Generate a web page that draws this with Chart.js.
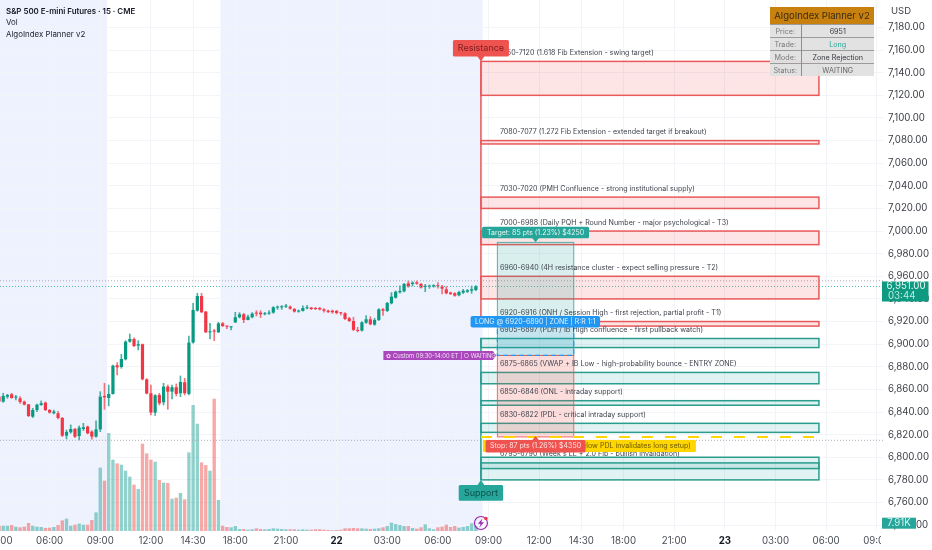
<!DOCTYPE html>
<html>
<head>
<meta charset="utf-8">
<title>ES 15m AlgoIndex Planner</title>
<script src="https://cdn.jsdelivr.net/npm/chart.js@4"></script>
<style>
  html, body { margin: 0; width: 932px; height: 550px; overflow: hidden; background: #fff; font-family: Inter, sans-serif; }
  #chart { position: absolute; left: -30px; top: 0; }
  .legend { position: absolute; left: 6px; top: 6px; font-size: 7.9px; line-height: 11.3px; color: #23262f; white-space: nowrap; }
  .legend b { font-weight: 600; color: #131722; }
  .planner { position: absolute; left: 770px; top: 7px; width: 104px; border-collapse: collapse; font-size: 7.2px; background: rgba(224,224,224,.95); table-layout: fixed; }
  .planner th { background: #c8810f; color: #3a2a10; font-weight: 400; font-size: 9.5px; height: 17px; padding: 0; }
  .planner td { height: 12px; padding: 0; text-align: center; border-top: 1px solid #9b9b9b; color: #33363d; white-space: nowrap; }
  .planner td:first-child { color: #777; border-right: 1px solid #8e8e8e; }
</style>
</head>
<body>
<canvas id="chart" width="962" height="550"></canvas>
<div class="legend"><b>S&amp;P 500 E-mini Futures · 15 · CME</b><br>Vol<br>AlgoIndex Planner v2</div>
<table class="planner">
  <colgroup><col style="width:31px"><col style="width:73px"></colgroup>
  <tr><th colspan="2">AlgoIndex Planner v2</th></tr>
  <tr><td>Price:</td><td>6951</td></tr>
  <tr><td>Trade:</td><td style="color:#26a69a">Long</td></tr>
  <tr><td>Mode:</td><td>Zone Rejection</td></tr>
  <tr><td>Status:</td><td style="color:#666">WAITING</td></tr>
</table>
<script>
/* ===== Data ===== */
const opens = [
  6853.6, 6849.2, 6853.6, 6855.7, 6852.7, 6852.1, 6849.2, 6846.8, 6835.9, 6841.8, 6846.2, 6848.3,
  6841.8, 6838.9, 6838.9, 6834.7, 6819.1, 6822.1, 6825.0, 6818.8, 6825.0, 6827.1, 6822.7, 6818.2,
  6824.7, 6854.2, 6852.4, 6856.0, 6881.3, 6879.8, 6886.6, 6902.2, 6904.6, 6898.7, 6899.9, 6868.9,
  6856.6, 6839.5, 6855.1, 6848.6, 6862.5, 6858.0, 6861.9, 6856.6, 6866.3, 6856.0, 6901.4, 6929.6,
  6942.6, 6928.8, 6910.5, 6912.0, 6910.5, 6918.4, 6916.1, 6914.9, 6919.3, 6923.8, 6926.4, 6921.4,
  6923.8, 6927.9, 6927.9, 6926.4, 6927.0, 6927.9, 6932.3, 6932.6, 6933.2, 6933.2, 6931.1, 6928.8,
  6929.4, 6931.7, 6932.3, 6932.0, 6932.0, 6930.8, 6929.6, 6929.6, 6929.4, 6927.9, 6927.3, 6922.9,
  6920.5, 6912.6, 6912.0, 6919.0, 6922.0, 6917.3, 6921.4, 6930.8, 6929.4, 6936.1, 6941.1, 6945.9,
  6946.7, 6953.8, 6953.2, 6954.7, 6953.2, 6950.6, 6950.9, 6951.2, 6951.8, 6950.9, 6948.5, 6945.6,
  6945.0, 6943.2, 6945.6, 6946.4, 6947.3, 6947.9
];
const closes = [
  6849.2, 6854.2, 6855.1, 6852.4, 6853.6, 6848.9, 6846.5, 6836.5, 6841.8, 6846.5, 6847.7, 6841.8,
  6839.5, 6840.4, 6834.7, 6819.1, 6822.4, 6825.0, 6818.2, 6826.2, 6826.5, 6821.2, 6818.2, 6824.7,
  6853.6, 6853.0, 6856.0, 6881.0, 6879.5, 6886.9, 6902.2, 6904.6, 6898.4, 6899.9, 6868.9, 6856.3,
  6839.5, 6854.8, 6847.7, 6862.5, 6858.0, 6861.9, 6856.0, 6866.6, 6856.6, 6901.4, 6930.2, 6942.6,
  6928.2, 6910.5, 6911.4, 6911.1, 6918.4, 6916.1, 6915.5, 6915.5, 6923.8, 6926.4, 6921.4, 6924.3,
  6927.0, 6927.0, 6926.4, 6927.3, 6927.9, 6932.6, 6932.9, 6933.5, 6933.8, 6931.4, 6928.8, 6929.6,
  6932.0, 6932.6, 6931.1, 6931.1, 6930.8, 6929.6, 6928.5, 6928.2, 6927.6, 6927.3, 6922.3, 6920.5,
  6912.6, 6911.7, 6919.3, 6922.0, 6917.6, 6921.4, 6930.8, 6929.6, 6936.4, 6942.0, 6946.4, 6947.0,
  6953.2, 6950.9, 6954.4, 6953.5, 6950.0, 6951.5, 6951.5, 6951.8, 6951.2, 6949.1, 6945.0, 6944.4,
  6942.9, 6946.1, 6947.3, 6947.6, 6948.5, 6951.0
];
const highs = [
  6854.2, 6856.6, 6855.7, 6856.6, 6854.8, 6853.6, 6849.8, 6846.8, 6843.3, 6847.1, 6849.8, 6848.9,
  6842.4, 6841.8, 6840.6, 6835.3, 6824.1, 6828.6, 6825.6, 6827.7, 6830.0, 6827.7, 6823.6, 6832.1,
  6858.0, 6865.4, 6863.9, 6881.6, 6883.7, 6891.0, 6903.1, 6909.0, 6905.5, 6903.1, 6900.2, 6869.5,
  6863.9, 6855.4, 6856.6, 6865.4, 6863.9, 6863.9, 6864.8, 6871.9, 6869.8, 6907.2, 6936.1, 6945.0,
  6945.0, 6929.1, 6918.4, 6913.1, 6919.3, 6919.3, 6916.1, 6915.5, 6928.2, 6927.9, 6927.3, 6925.8,
  6927.9, 6929.6, 6929.6, 6928.2, 6929.6, 6933.2, 6933.8, 6934.1, 6935.2, 6933.8, 6931.7, 6930.2,
  6933.8, 6934.4, 6932.6, 6932.6, 6932.6, 6931.4, 6930.2, 6930.2, 6929.9, 6928.2, 6927.9, 6923.8,
  6923.8, 6914.9, 6919.9, 6925.2, 6924.3, 6922.9, 6931.4, 6931.7, 6937.0, 6945.6, 6947.0, 6951.5,
  6953.8, 6955.9, 6955.3, 6955.9, 6953.8, 6952.9, 6952.3, 6952.6, 6954.4, 6952.0, 6950.9, 6946.1,
  6945.6, 6947.0, 6948.5, 6948.5, 6951.5, 6951.8
];
const lows = [
  6848.6, 6848.6, 6852.1, 6852.1, 6850.7, 6847.7, 6846.2, 6835.9, 6835.0, 6840.4, 6845.9, 6841.2,
  6838.9, 6838.3, 6833.9, 6818.2, 6816.2, 6821.2, 6817.4, 6815.3, 6823.6, 6820.6, 6815.9, 6817.7,
  6822.7, 6842.4, 6845.4, 6855.7, 6872.8, 6878.7, 6886.0, 6901.6, 6897.8, 6894.9, 6868.3, 6856.0,
  6837.4, 6837.1, 6846.2, 6846.2, 6842.4, 6851.5, 6854.2, 6853.6, 6855.1, 6855.1, 6900.8, 6929.1,
  6927.9, 6910.2, 6904.6, 6903.1, 6910.2, 6915.5, 6913.7, 6912.6, 6919.0, 6923.2, 6919.0, 6921.4,
  6923.2, 6924.9, 6923.5, 6925.8, 6926.4, 6927.3, 6930.8, 6930.8, 6932.3, 6930.8, 6928.2, 6928.2,
  6929.1, 6931.1, 6930.5, 6930.5, 6930.2, 6928.2, 6927.9, 6927.3, 6926.7, 6925.8, 6921.7, 6919.9,
  6912.0, 6910.8, 6911.4, 6918.4, 6917.0, 6916.7, 6920.8, 6925.5, 6928.8, 6935.5, 6940.6, 6945.0,
  6946.1, 6950.3, 6951.5, 6952.9, 6949.4, 6946.4, 6949.4, 6950.3, 6949.4, 6944.4, 6944.4, 6943.8,
  6942.3, 6942.6, 6944.7, 6945.6, 6945.0, 6947.3
];
// volume in thousands of contracts
const volumes = [
  8.5, 8.5, 8.5, 9.6, 6.9, 5.9, 6.9, 12.8, 8.5, 6.9, 6.4, 4.8,
  5.3, 6.4, 9.6, 17, 19.7, 8.5, 10.1, 11.7, 10.1, 10.1, 17.6, 29.8,
  101.3, 80.5, 156.7, 114.1, 108.2, 106.1, 96.5, 86.9, 74.1, 67.2, 139.6, 124.2,
  114.1, 110.9, 81.5, 77.3, 76.8, 51.7, 53.3, 60.8, 50.6, 125.8, 201.5, 171.6,
  109.8, 105.5, 96.5, 211.6, 49.6, 8.5, 6.4, 5.9, 8, 3.2, 3.2, 2.1,
  2.7, 4.3, 3.2, 2.7, 3.2, 4.3, 3.7, 3.2, 2.7, 2.7, 2.7, 2.1,
  2.7, 2.1, 2.1, 2.7, 2.7, 2.1, 1.6, 1.1, 1.6, 2.1, 4.3, 4.3,
  4.8, 4.3, 4.3, 3.7, 3.2, 3.7, 4.3, 5.9, 8, 13.3, 11.2, 9.6,
  8, 8, 4.8, 3.7, 5.9, 10.7, 4.3, 2.7, 5.9, 6.9, 10.1, 6.4,
  8, 5.3, 6.4, 8, 12.3, 7.91
];

const tickPositions = [0, 12, 24, 36, 46, 56, 68, 80, 92, 104, 116, 128, 138, 148, 160, 172, 184, 196, 208];
const tickLabels = ['03:00', '06:00', '09:00', '12:00', '14:30', '18:00', '21:00', '22', '03:00', '06:00', '09:00',
  '12:00', '14:30', '18:00', '21:00', '23', '03:00', '06:00', '09:00'];
const dayTicks = ['22', '23'];
const priceTicks = [7180, 7160, 7140, 7120, 7100, 7080, 7060, 7040, 7020, 7000, 6980, 6960, 6940, 6920, 6900,
  6880, 6860, 6840, 6820, 6800, 6780, 6760, 6740];

const zoneHighs = [7150, 7080, 7030, 7000, 6960, 6920, 6905, 6875, 6850, 6830, 6800, 6795];
const zoneLows = [7120, 7077, 7020, 6988, 6940, 6916, 6897, 6865, 6846, 6822, 6780, 6790];
const zoneLabels = [
  '7150-7120 (1.618 Fib Extension - swing target)',
  '7080-7077 (1.272 Fib Extension - extended target if breakout)',
  '7030-7020 (PMH Confluence - strong institutional supply)',
  '7000-6988 (Daily PQH + Round Number - major psychological - T3)',
  '6960-6940 (4H resistance cluster - expect selling pressure - T2)',
  '6920-6916 (ONH / Session High - first rejection, partial profit - T1)',
  '6905-6897 (PDH / IB High confluence - first pullback watch)',
  '6875-6865 (VWAP + IB Low - high-probability bounce - ENTRY ZONE)',
  '6850-6846 (ONL - intraday support)',
  '6830-6822 (PDL - critical intraday support)',
  '',
  "6795-6790 (Week's LL + 2.0 Fib - bullish invalidation)"
];

const lastPrice = 6951;
const prevClose = 6956;
const dayLow = 6815;
const entryPrice = 6905;
const targetPrice = 6990;
const stopPrice = 6818;
const entryZoneHigh = 6920;
const entryZoneLow = 6890;

// session edges and drawing extents, in bar positions
const sessionEdges = [-7, 25.6, 52.5, 114.6];
const zoneStart = 114.2;
const zoneEnd = 194.3;
const positionStart = 118.1;
const positionEnd = 136.2;

const candleUp = '#089981';
const candleDown = '#f23645';
const wickUp = 'rgba(8,153,129,.75)';
const wickDown = 'rgba(242,54,69,.7)';
const volUp = 'rgba(38,166,154,.5)';
const volDown = 'rgba(239,83,80,.5)';
const red = '#ef5350';
const teal = '#26a69a';
const blue = '#2196f3';
const labelFont = '"Inter", sans-serif';

const barX = opens.map((_, i) => i);
const isUp = opens.map((o, i) => closes[i] >= o);


/* ===== Drawing helpers ===== */
function priceLine(ctx, area, y, color) {
  ctx.save();
  ctx.strokeStyle = color;
  ctx.lineWidth = 1;
  ctx.setLineDash([1, 2]);
  ctx.beginPath();
  ctx.moveTo(area.left, y);
  ctx.lineTo(area.right, y);
  ctx.stroke();
  ctx.restore();
}

function callout(ctx, left, top, w, h, tipX, tipY, fill, radius) {
  ctx.fillStyle = fill;
  ctx.beginPath();
  ctx.roundRect(left, top, w, h, radius);
  ctx.fill();
  ctx.beginPath();
  if (tipY < top) {
    ctx.moveTo(tipX - 4, top + 1); ctx.lineTo(tipX, tipY); ctx.lineTo(tipX + 4, top + 1);
  } else {
    ctx.moveTo(tipX - 4, top + h - 1); ctx.lineTo(tipX, tipY); ctx.lineTo(tipX + 4, top + h - 1);
  }
  ctx.fill();
}

function centerText(ctx, text, x, y, font, color) {
  ctx.font = font;
  ctx.fillStyle = color;
  ctx.textAlign = 'center';
  ctx.textBaseline = 'middle';
  ctx.fillText(text, x, y);
}

// tick labels must not pull the plot area in from the canvas edges
function noScalePadding(scale) {
  scale.paddingLeft = 0;
  scale.paddingRight = 0;
  scale.paddingTop = 0;
  scale.paddingBottom = 0;
}

function isDayTick(ctx) {
  return Boolean(ctx.tick) && dayTicks.includes(tickLabels[tickPositions.indexOf(ctx.tick.value)]);
}


/* ===== Plugin: sessions, zones, position, badges ===== */
const plannerPlugin = {
  id: 'planner',

  beforeDraw(chart) {
    const { ctx, chartArea: area, scales: { x } } = chart;
    ctx.save();
    ctx.fillStyle = '#eef2fe';
    for (let i = 0; i < sessionEdges.length; i += 2) {
      const x0 = Math.max(area.left, x.getPixelForValue(sessionEdges[i]));
      ctx.fillRect(x0, area.top, x.getPixelForValue(sessionEdges[i + 1]) - x0, area.height);
    }
    ctx.restore();
  },

  beforeDatasetsDraw(chart) {
    // price pane hides the time labels that run past it
    const { ctx, chartArea: area, width, height } = chart;
    ctx.save();
    ctx.fillStyle = '#fff';
    ctx.fillRect(area.right - 2, area.bottom, width - area.right + 2, height - area.bottom);
    ctx.restore();
  },

  afterDatasetsDraw(chart) {
    const { ctx, chartArea: area, scales: { x, y } } = chart;
    const left = x.getPixelForValue(zoneStart);
    const right = x.getPixelForValue(zoneEnd);
    const posL = x.getPixelForValue(positionStart);
    const posR = x.getPixelForValue(positionEnd);
    const posMid = (posL + posR) / 2;

    ctx.save();
    priceLine(ctx, area, y.getPixelForValue(prevClose), '#a9adb8');
    priceLine(ctx, area, y.getPixelForValue(lastPrice), '#4db6ac');
    priceLine(ctx, area, y.getPixelForValue(dayLow), '#a9adb8');

    // zones
    zoneHighs.forEach((high, i) => {
      const isSupport = high <= entryPrice;
      const top = y.getPixelForValue(high);
      const bottom = y.getPixelForValue(zoneLows[i]);
      ctx.fillStyle = isSupport ? 'rgba(38,166,154,.14)' : 'rgba(239,83,80,.15)';
      ctx.strokeStyle = isSupport ? '#2a9d8f' : '#e9595a';
      ctx.lineWidth = 1.5;
      ctx.fillRect(left, top, right - left, bottom - top);
      ctx.strokeRect(left, top, right - left, bottom - top);
    });

    // spines joining the zones
    ctx.lineWidth = 1.5;
    ctx.strokeStyle = '#e9595a';
    ctx.beginPath();
    ctx.moveTo(left, y.getPixelForValue(zoneHighs[0]));
    ctx.lineTo(left, y.getPixelForValue(zoneLows[5]));
    ctx.stroke();
    ctx.strokeStyle = '#2a9d8f';
    ctx.beginPath();
    ctx.moveTo(left, y.getPixelForValue(zoneHighs[6]));
    ctx.lineTo(left, y.getPixelForValue(zoneLows[10]));
    ctx.stroke();

    // long position: target, stop, entry zone
    const yTarget = y.getPixelForValue(targetPrice);
    const yStop = y.getPixelForValue(stopPrice);
    const yZoneTop = y.getPixelForValue(entryZoneHigh);
    const yZoneBottom = y.getPixelForValue(entryZoneLow);
    ctx.lineWidth = 1;
    ctx.fillStyle = 'rgba(38,166,154,.18)';
    ctx.strokeStyle = 'rgba(38,166,154,.8)';
    ctx.fillRect(posL, yTarget, posR - posL, yZoneBottom - yTarget);
    ctx.strokeRect(posL, yTarget, posR - posL, yZoneBottom - yTarget);
    ctx.fillStyle = 'rgba(239,83,80,.2)';
    ctx.strokeStyle = 'rgba(239,83,80,.85)';
    ctx.fillRect(posL, yZoneBottom, posR - posL, yStop - yZoneBottom);
    ctx.strokeRect(posL, yZoneBottom, posR - posL, yStop - yZoneBottom);
    ctx.fillStyle = 'rgba(33,150,243,.1)';
    ctx.fillRect(posL, yZoneTop, posR - posL, yZoneBottom - yZoneTop);
    ctx.strokeStyle = blue;
    ctx.lineWidth = 1.2;
    ctx.setLineDash([5, 3]);
    ctx.strokeRect(posL, yZoneTop, posR - posL, yZoneBottom - yZoneTop);
    ctx.setLineDash([]);

    // zone captions
    ctx.font = '7.1px ' + labelFont;
    ctx.fillStyle = '#3f434d';
    ctx.textAlign = 'left';
    ctx.textBaseline = 'middle';
    zoneLabels.forEach((text, i) => {
      if (text) {ctx.fillText(text, left + 19, y.getPixelForValue(zoneHighs[i]) - 8.6);}
    });

    // invalidation line and tag
    ctx.strokeStyle = '#ffd600';
    ctx.lineWidth = 2;
    ctx.setLineDash([11, 12]);
    ctx.beginPath();
    ctx.moveTo(left, yStop);
    ctx.lineTo(right, yStop);
    ctx.stroke();
    ctx.setLineDash([]);
    ctx.fillStyle = '#ffd600';
    ctx.beginPath();
    ctx.roundRect(left + 2, yStop + 3, 213, 12, 1);
    ctx.fill();
    ctx.font = '7.1px ' + labelFont;
    ctx.fillStyle = '#6b5a00';
    ctx.textAlign = 'right';
    ctx.fillText('Invalidation 6818 (close below PDL invalidates long setup)', left + 210, yStop + 9);

    // trade tags
    callout(ctx, posMid - 53.5, yTarget - 15.5, 107, 11.5, posMid, yTarget, teal, 1.5);
    centerText(ctx, 'Target: 85 pts (1.23%) $4250', posMid, yTarget - 9.6, '7px ' + labelFont, '#e6f6f3');
    callout(ctx, posMid - 50, yStop + 3, 100, 12.5, posMid, yStop - 1, red, 1.5);
    centerText(ctx, 'Stop: 87 pts (1.26%) $4350', posMid, yStop + 9.3, '7px ' + labelFont, '#fde4e3');
    ctx.fillStyle = blue;
    ctx.beginPath();
    ctx.roundRect(posMid - 65, yZoneTop - 5.5, 129.5, 11.5, 2);
    ctx.fill();
    centerText(ctx, 'LONG @ 6920-6890 | ZONE | R:R 1:1', posMid - 0.3, yZoneTop + 0.3, '7px ' + labelFont, '#e3f2fd');

    // purple session tag points at the position box
    ctx.fillStyle = '#ab47bc';
    ctx.beginPath();
    ctx.moveTo(posL - 1, yZoneBottom);
    ctx.lineTo(posL - 4.5, yZoneBottom - 4.5);
    ctx.lineTo(posL - 114, yZoneBottom - 4.5);
    ctx.lineTo(posL - 114, yZoneBottom + 4.5);
    ctx.lineTo(posL - 4.5, yZoneBottom + 4.5);
    ctx.closePath();
    ctx.fill();
    ctx.font = '5.8px ' + labelFont;
    ctx.fillStyle = '#f3e5f5';
    ctx.textAlign = 'left';
    ctx.textBaseline = 'middle';
    ctx.fillText('✿ Custom 09:30-14:00 ET | ○ WAITING', posL - 111, yZoneBottom + 0.3);

    // resistance / support
    const yRes = y.getPixelForValue(zoneHighs[0]);
    const ySup = y.getPixelForValue(zoneLows[10]);
    callout(ctx, left - 28, yRes - 21.5, 56, 16.5, left, yRes, '#ef5350', 1.5);
    centerText(ctx, 'Resistance', left, yRes - 13, '9px ' + labelFont, '#7d1f1f');
    callout(ctx, left - 22.2, ySup + 5.2, 44.4, 15.6, left, ySup, '#26a69a', 1.5);
    centerText(ctx, 'Support', left, ySup + 13, '9px ' + labelFont, '#0c4f48');

    // alert icon
    const iconY = area.bottom - 8;
    ctx.strokeStyle = '#9c27b0';
    ctx.lineWidth = 1.2;
    ctx.beginPath();
    ctx.arc(left, iconY, 6.5, 0, Math.PI * 2);
    ctx.stroke();
    ctx.fillStyle = '#9c27b0';
    ctx.beginPath();
    ctx.moveTo(left + 1.5, iconY - 4.5);
    ctx.lineTo(left - 3, iconY + 0.8);
    ctx.lineTo(left - 0.3, iconY + 0.8);
    ctx.lineTo(left - 1.5, iconY + 4.5);
    ctx.lineTo(left + 3, iconY - 0.8);
    ctx.lineTo(left + 0.3, iconY - 0.8);
    ctx.closePath();
    ctx.fill();
    ctx.fillStyle = '#f23645';
    ctx.beginPath();
    ctx.arc(left + 5, iconY - 4.5, 1.8, 0, Math.PI * 2);
    ctx.fill();
    ctx.restore();
  },

  afterDraw(chart) {
    const { ctx, chartArea: area, scales: { y } } = chart;
    const yLast = y.getPixelForValue(lastPrice);
    const lastVol = volumes[volumes.length - 1];
    ctx.save();

    ctx.font = '9.5px ' + labelFont;
    ctx.fillStyle = '#3c3f47';
    ctx.textAlign = 'left';
    ctx.textBaseline = 'middle';
    ctx.fillText('USD', area.right + 8, 11);

    // last price badge
    ctx.fillStyle = '#0e9a80';
    ctx.fillRect(area.right - 1, yLast - 5, 46.5, 20);
    ctx.font = '9.7px ' + labelFont;
    ctx.fillStyle = '#eaf7f4';
    ctx.textAlign = 'center';
    ctx.fillText(lastPrice.toLocaleString('en-US', { minimumFractionDigits: 2 }), area.right + 23, yLast);
    ctx.fillStyle = '#bfe8df';
    ctx.textAlign = 'left';
    ctx.fillText('03:44', area.right + 5, yLast + 10);

    // last volume badge
    const vTop = 517.7;
    ctx.fillStyle = '#26a69a';
    ctx.fillRect(area.right - 1, vTop, 34, 11);
    ctx.font = '9.7px ' + labelFont;
    ctx.fillStyle = '#d9f3ef';
    ctx.textAlign = 'center';
    ctx.fillText(lastVol.toFixed(2) + 'K', area.right + 16, vTop + 5.7);
    ctx.restore();
  }
};


/* ===== Chart ===== */
new Chart(document.getElementById('chart').getContext('2d'), {
  type: 'bar',
  plugins: [plannerPlugin],
  data: {
    datasets: [
      {
        label: 'Body',
        order: 1,
        yAxisID: 'y',
        data: barX.map(i => ({ x: i, y: [opens[i], closes[i]] })),
        backgroundColor: isUp.map(up => (up ? candleUp : candleDown)),
        barPercentage: 0.76,
        categoryPercentage: 1,
        minBarLength: 1,
        grouped: false,
      },
      {
        label: 'Wick',
        order: 2,
        yAxisID: 'y',
        data: barX.map(i => ({ x: i, y: [lows[i], highs[i]] })),
        backgroundColor: isUp.map(up => (up ? wickUp : wickDown)),
        barThickness: 1,
        grouped: false,
      },
      {
        label: 'Vol',
        order: 3,
        yAxisID: 'yVol',
        data: barX.map(i => ({ x: i, y: volumes[i] })),
        backgroundColor: isUp.map(up => (up ? volUp : volDown)),
        barPercentage: 0.8,
        categoryPercentage: 1,
        grouped: false,
      },
    ],
  },
  options: {
    responsive: false,
    animation: false,
    layout: { padding: 0 },
    plugins: { legend: { display: false }, tooltip: { enabled: false } },
    scales: {
      x: {
        type: 'linear',
        offset: false,
        min: -6.87,
        max: 209.48,
        grid: { offset: false, color: '#f2f4f8', drawTicks: false },
        border: { display: false },
        afterBuildTicks: scale => { scale.ticks = tickPositions.map(value => ({ value })); },
        afterFit: scale => { scale.height = 19; noScalePadding(scale); },
        ticks: {
          autoSkip: false,
          maxRotation: 0,
          padding: 4,
          color: ctx => (isDayTick(ctx) ? '#131722' : '#4a4d55'),
          font: ctx => ({ family: labelFont, size: 9.7, weight: isDayTick(ctx) ? '700' : '400' }),
          callback: value => tickLabels[tickPositions.indexOf(value)],
        },
      },
      y: {
        position: 'right',
        min: 6734.8,
        max: 7204.3,
        grid: { color: '#f2f4f8', drawTicks: false },
        border: { display: false },
        afterBuildTicks: scale => { scale.ticks = priceTicks.map(value => ({ value })); },
        afterFit: scale => { scale.width = 49; noScalePadding(scale); },
        ticks: {
          z: 1,
          padding: 5,
          color: '#3c3f47',
          font: { family: labelFont, size: 9.7 },
          callback: value => value.toLocaleString('en-US', { minimumFractionDigits: 2 }),
        },
      },
      yVol: {
        display: false,
        min: 0,
        max: 849.6,
      },
    },
  },
});
</script>
</body>
</html>
